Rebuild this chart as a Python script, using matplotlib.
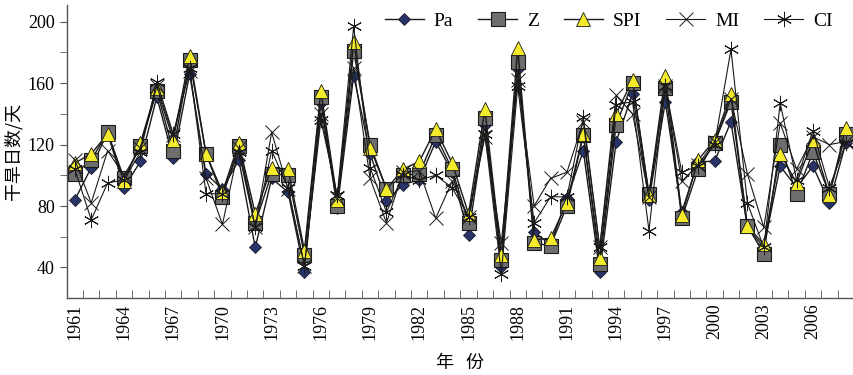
import numpy as np
import matplotlib.pyplot as plt
from matplotlib.ticker import FixedLocator, NullFormatter

plt.rcParams['font.family'] = ['Liberation Serif', 'Noto Sans CJK SC', 'DejaVu Sans']

years = list(range(1961, 2009))

Pa = [84, 105, 128, 92, 109, 151, 111, 166, 101, 91, 110, 53, 98, 89, 37, 147,
      79, 165, 114, 83, 94, 97, 122, 102, 61, 133, 40, 169, 63, 55, 85, 116,
      37, 122, 153, 84, 148, 76, 109, 109, 135, 66, 53, 106, 92, 106, 82, 121]
Z = [101, 110, 128, 98, 119, 155, 116, 175, 114, 86, 119, 69, 101, 100, 48, 151,
     80, 181, 120, 91, 100, 101, 126, 104, 69, 137, 45, 174, 56, 54, 80, 126,
     42, 133, 160, 88, 157, 72, 104, 121, 148, 67, 49, 120, 88, 115, 88, 127]
SPI = [108, 114, 127, 96, 121, 157, 123, 178, 114, 89, 121, 75, 105, 104, 51, 155,
       84, 187, 118, 91, 104, 109, 130, 108, 75, 143, 48, 183, 58, 59, 82, 127,
       46, 140, 162, 87, 165, 74, 110, 123, 153, 67, 55, 114, 95, 123, 87, 131]
MI = [110, 82, 116, 100, 118, 158, 126, 168, 98, 68, 118, 66, 128, 91, 41, 140,
      85, 170, 98, 69, 102, 103, 72, 96, 73, 125, 56, 162, 80, 98, 102, 135,
      53, 152, 140, 86, 158, 96, 107, 122, 150, 101, 66, 134, 104, 125, 120, 122]
CI = [104, 71, 95, 97, 115, 161, 127, 170, 88, 88, 115, 66, 116, 92, 41, 136,
      87, 197, 105, 76, 100, 97, 100, 92, 73, 127, 36, 158, 69, 86, 86, 138,
      53, 146, 148, 64, 158, 102, 106, 120, 182, 82, 53, 147, 97, 129, 92, 121]

x = np.arange(len(years))

fig = plt.figure(figsize=(8.54, 3.75), dpi=100)
ax = fig.add_axes([0.078, 0.205, 0.922, 0.782])

lc = '#1a1a1a'
ax.plot(x, Pa, color=lc, lw=1.0, marker='D', ms=6.5, mfc='#283468', mec='#1a1a2a', mew=0.6, label='Pa')
ax.plot(x, Z, color=lc, lw=1.0, marker='s', ms=10, mfc='#6e6e6e', mec='#1a1a1a', mew=0.8, label='Z')
ax.plot(x, SPI, color=lc, lw=1.0, marker='^', ms=9.5, mfc='#f2ea2a', mec='#1a1a1a', mew=0.6, label='SPI')
ax.plot(x, MI, color=lc, lw=0.8, marker='x', ms=10, mec=lc, mew=0.7, label='MI')
ax.plot(x, CI, color=lc, lw=0.8, marker=(6, 2, 0), ms=11, mec=lc, mew=0.7, label='CI')

ax.set_xlim(-0.5, len(years) - 0.5)
ax.set_ylim(20, 211)

for s in ['top', 'right']:
    ax.spines[s].set_visible(False)
for s in ['left', 'bottom']:
    ax.spines[s].set_color('#555555')
    ax.spines[s].set_linewidth(1.0)

ax.yaxis.set_major_locator(FixedLocator([40, 80, 120, 160, 200]))
ax.yaxis.set_minor_locator(FixedLocator([60, 100, 140, 180]))
ax.tick_params(axis='y', which='both', direction='out', length=5, color='#555555', labelsize=13)

ax.xaxis.set_major_locator(FixedLocator(x[::3]))
ax.set_xticklabels([str(y) for y in years[::3]], rotation=90)
ax.xaxis.set_minor_locator(FixedLocator(x[:-1] + 0.5))
ax.xaxis.set_minor_formatter(NullFormatter())
ax.tick_params(axis='x', which='major', length=0, labelsize=13, pad=4)
ax.tick_params(axis='x', which='minor', direction='in', length=6, color='#555555')

ax.set_ylabel('干旱日数/天', fontsize=13, family=['Noto Sans CJK SC'], labelpad=4)
ax.set_xlabel('年   份', fontsize=13, family=['Noto Sans CJK SC'], labelpad=10)

ax.legend(loc='upper right', bbox_to_anchor=(0.995, 1.035), ncol=5, frameon=False,
          fontsize=14, handlelength=2.0, columnspacing=1.3, handletextpad=0.5)

fig.savefig('out.png', dpi=100)
